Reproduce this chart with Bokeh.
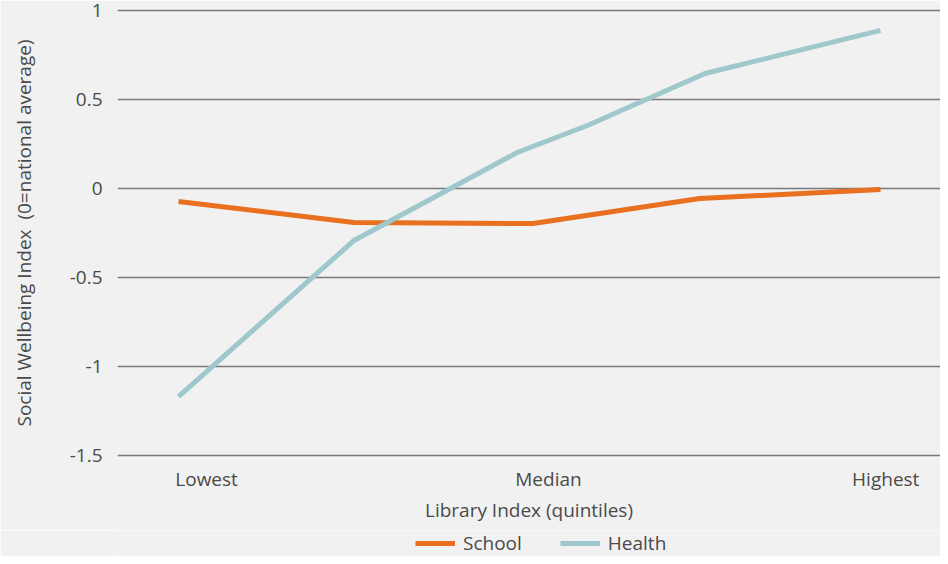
from bokeh.plotting import figure
from bokeh.models import FixedTicker, Legend, LegendItem, Range1d
from bokeh.layouts import column
from bokeh.embed import file_html
from bokeh.resources import INLINE

# Data
school_x = [1, 2, 3.02, 3.97, 5]
school = [-0.073, -0.191, -0.197, -0.056, -0.006]
health_x = [1, 2, 2.93, 3.33, 4, 5]
health = [-1.169, -0.292, 0.202, 0.354, 0.646, 0.888]

x_tick_pos = [1.16, 3.108, 5.03]
x_tick_labels = ["Lowest", "Median", "Highest"]
y_ticks = [-1.5, -1, -0.5, 0, 0.5, 1]
y_tick_labels = ["-1.5", "-1", "-0.5", "0", "0.5", "1"]
series_names = ["School", "Health"]

BG = "#f1f1f1"
TXT = "#4a4a4a"
FONT = "Open Sans"
FS = "19px"
ORANGE = "#e8701f"
TEAL = "#9ec8cc"

p = figure(frame_width=823, frame_height=449, output_backend="svg", toolbar_location=None,
           x_range=Range1d(0.6524, 5.342), y_range=Range1d(-1.5112, 1.0112),
           min_border_left=117, min_border_right=0, min_border_top=8, min_border_bottom=73,
           background_fill_color=BG, border_fill_color=BG, outline_line_color=None)

p.line(school_x, school, line_color=ORANGE, line_width=5)
p.line(health_x, health, line_color=TEAL, line_width=5)

p.xaxis.ticker = FixedTicker(ticks=x_tick_pos)
p.xaxis.major_label_overrides = {x_tick_pos[i]: x_tick_labels[i] for i in range(3)}
p.yaxis.ticker = FixedTicker(ticks=y_ticks)
p.yaxis.major_label_overrides = {y_ticks[i]: y_tick_labels[i] for i in range(len(y_ticks))}

for ax in (p.xaxis, p.yaxis):
    ax.axis_line_color = None
    ax.major_tick_line_color = None
    ax.minor_tick_line_color = None
    ax.major_tick_out = 0
    ax.major_tick_in = 0
    ax.minor_tick_out = 0
    ax.minor_tick_in = 0
    ax.major_label_text_font = FONT
    ax.major_label_text_font_size = FS
    ax.major_label_text_color = TXT
    ax.axis_label_text_font = FONT
    ax.axis_label_text_font_size = FS
    ax.axis_label_text_color = TXT
    ax.axis_label_text_font_style = "normal"

p.xaxis.axis_label = "Library Index (quintiles)"
p.yaxis.axis_label = "Social Wellbeing Index \u00a0(0=national average)"
p.xaxis.major_label_standoff = 8
p.xaxis.axis_label_standoff = 2
p.yaxis.major_label_standoff = 15
p.yaxis.axis_label_standoff = 30

p.xgrid.grid_line_color = None
p.ygrid.ticker = FixedTicker(ticks=y_ticks)
p.ygrid.grid_line_color = "#7a7a7a"
p.ygrid.grid_line_width = 1.5

# Legend strip: same series, drawn off-range so only the legend shows
lg = figure(width=940, height=26, output_backend="svg", toolbar_location=None,
            x_range=Range1d(100, 101), y_range=Range1d(100, 101),
            x_axis_type=None, y_axis_type=None,
            min_border_left=117, min_border_right=0, min_border_top=0, min_border_bottom=0,
            background_fill_color=BG, border_fill_color=BG, outline_line_color=None)
lg.xgrid.visible = False
lg.ygrid.visible = False
l1 = lg.line(school_x, school, line_color=ORANGE, line_width=5)
l2 = lg.line(health_x, health, line_color=TEAL, line_width=5)
legend = Legend(items=[LegendItem(label=series_names[0], renderers=[l1]),
                       LegendItem(label=series_names[1], renderers=[l2])],
                orientation="horizontal", location=(298, 0),
                background_fill_alpha=0, border_line_alpha=0,
                label_text_font=FONT, label_text_font_size=FS, label_text_color=TXT,
                glyph_width=40, label_standoff=8, spacing=38, padding=0, margin=0)
lg.add_layout(legend, "center")

layout = column(p, lg, spacing=0)

open("out.html", "w").write(file_html(layout, INLINE))
